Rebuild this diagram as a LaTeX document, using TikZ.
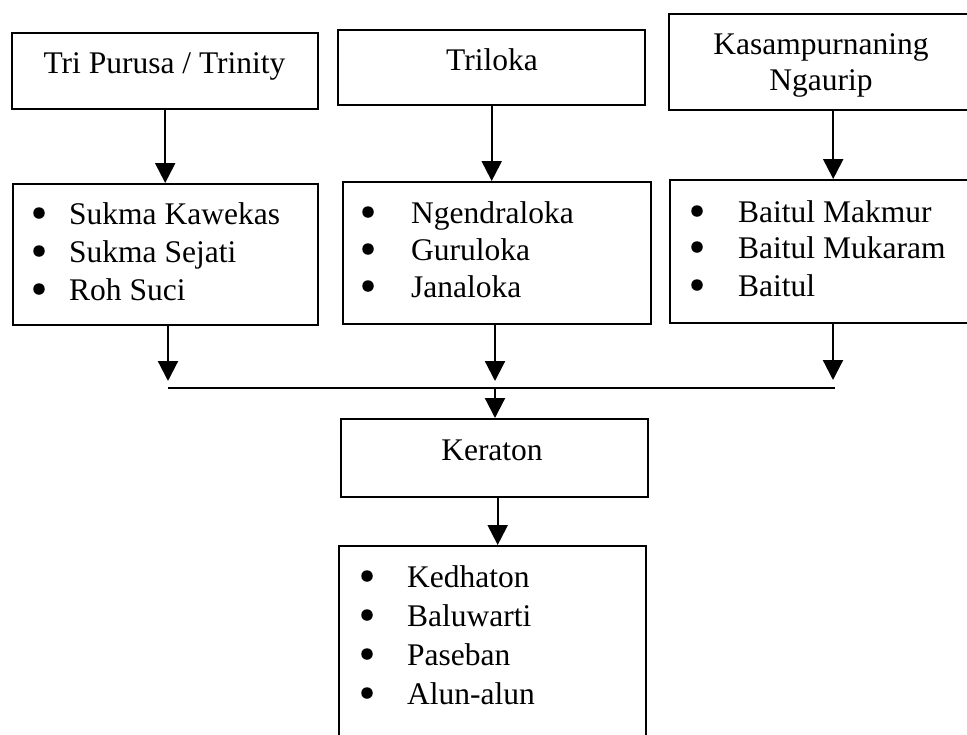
\documentclass[tikz,border=0pt]{standalone}
\usepackage{fontspec}
\setmainfont{Liberation Serif}
\usetikzlibrary{arrows.meta}
\begin{document}
\begin{tikzpicture}[x=1pt,y=-1pt,
  box/.style={draw, line width=2.4pt, rectangle, inner sep=0pt, anchor=north west},
  lbl/.style={inner sep=0pt, anchor=base, font=\fontsize{31.5}{38}\selectfont},
  item/.style={inner sep=0pt, anchor=base west, font=\fontsize{31.5}{38}\selectfont},
  dot/.style={circle, fill, inner sep=0pt, minimum size=11.5pt},
  flow/.style={line width=2.2pt, -{Triangle[length=20pt,width=20pt]}},
  bus/.style={line width=2.4pt},
]
\useasboundingbox (0,0) rectangle (967,734);

% top row of boxes
\node[box, minimum width=306pt, minimum height=76pt] (b1) at (11,32) {};
\node[box, minimum width=307pt, minimum height=75pt] (b2) at (337,29) {};
\node[box, minimum width=328pt, minimum height=96pt] (b3) at (668,13) {};
\node[lbl] (t1) at (164.5,73) {Tri Purusa / Trinity};
\node[lbl] (t2) at (492,70) {Triloka};
\node[lbl] (t3a) at (821,54) {Kasampurnaning};
\node[lbl] (t3b) at (821,90) {Ngaurip};

% second row: bullet lists
\node[box, minimum width=305pt, minimum height=141pt] (l1) at (12,183) {};
\node[box, minimum width=308pt, minimum height=142pt] (l2) at (342,181) {};
\node[box, minimum width=327pt, minimum height=143pt] (l3) at (669,179) {};

\foreach \y/\txt [count=\k] in {224/Sukma Kawekas, 262/Sukma Sejati, 300/Roh Suci}{
  \node[dot] (d1-\k) at (39,\y-11) {};
  \node[item] (i1-\k) at (69,\y) {\txt};
}
\foreach \y/\txt [count=\k] in {223/Ngendraloka, 260/Guruloka, 297/Janaloka}{
  \node[dot] (d2-\k) at (368,\y-11) {};
  \node[item] (i2-\k) at (411,\y) {\txt};
}
\foreach \y/\txt [count=\k] in {222/Baitul Makmur, 258/Baitul Mukaram, 296/Baitul}{
  \node[dot] (d3-\k) at (697,\y-11) {};
  \node[item] (i3-\k) at (738,\y) {\txt};
}

% Keraton and its parts
\node[box, minimum width=307pt, minimum height=78pt] (k) at (340,418) {};
\node[lbl] (tk) at (492,460) {Keraton};
\node[box, minimum width=307pt, minimum height=250pt] (l4) at (338,545) {};
\foreach \y/\txt [count=\k] in {587/Kedhaton, 626/Baluwarti, 665/Paseban, 704/Alun-alun}{
  \node[dot] (d4-\k) at (367,\y-11) {};
  \node[item] (i4-\k) at (407,\y) {\txt};
}

% arrows from the headings to their lists
\draw[flow] (b1.south) -- (b1.south |- l1.north);
\draw[flow] (b2.south) -- (b2.south |- l2.north);
\draw[flow] (b3.south) -- (b3.south |- l3.north);

% arrows down to the collecting line
\coordinate (j1) at (168,381);
\coordinate (j2) at (495,381);
\coordinate (j3) at (833,380);
\draw[flow] (l1.south -| j1) -- (j1);
\draw[flow] (l2.south -| j2) -- (j2);
\draw[flow] (l3.south -| j3) -- (j3);

% collecting line and arrow into Keraton
\coordinate (bl) at (168,388);
\coordinate (bm) at (495,388);
\coordinate (br) at (835,388);
\draw[bus] (bl) -- (br);
\draw[flow] (bm) -- (bm |- k.north);

% Keraton to its parts
\draw[flow] ([xshift=3pt]k.south) -- ([xshift=3pt]k.south |- l4.north);
\end{tikzpicture}
\end{document}
